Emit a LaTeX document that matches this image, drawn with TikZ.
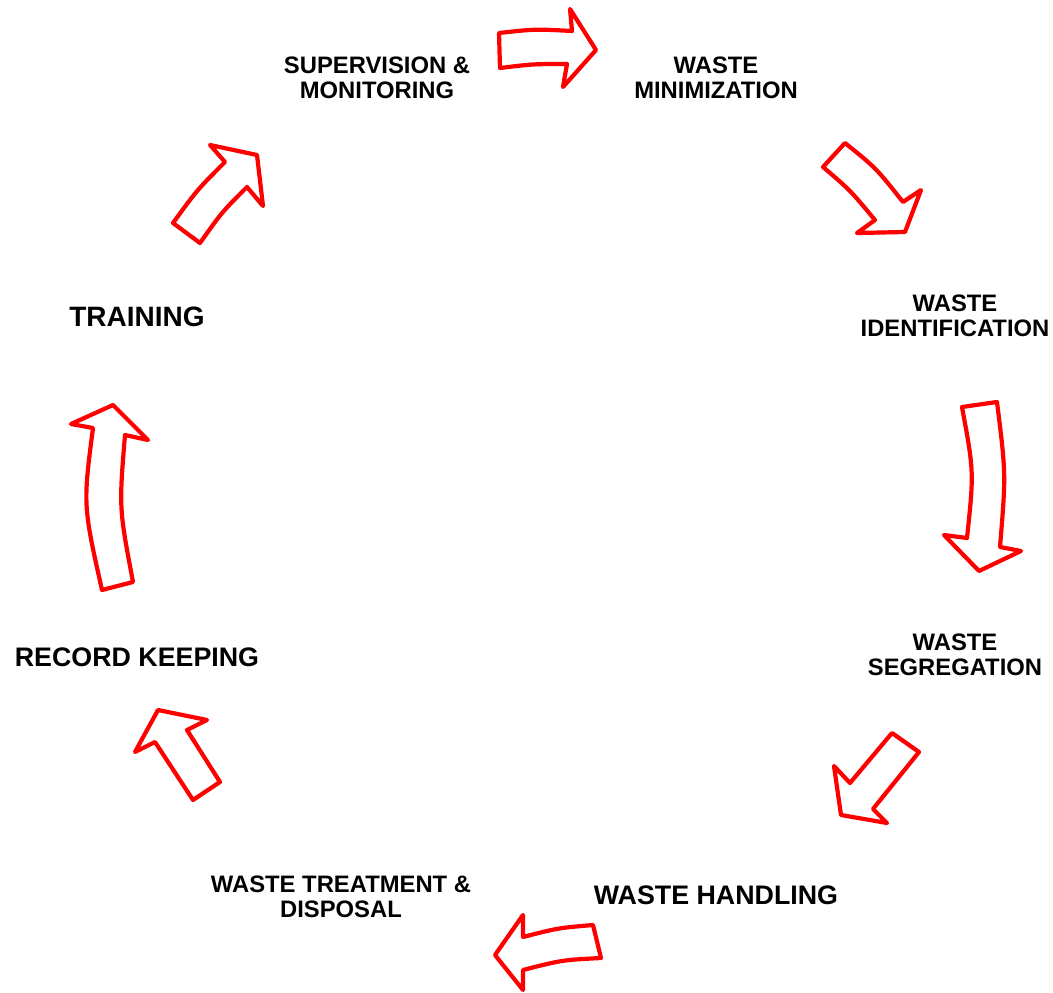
\documentclass[tikz,border=0pt]{standalone}
\usepackage{fontspec}
\setmainfont{Liberation Sans}
\begin{document}
\begin{tikzpicture}[x=1pt,y=-1pt,
  blockarrow/.style={draw=red,fill=white,line width=4.2pt,line join=round},
  smalllabel/.style={font=\bfseries\fontsize{23.8}{25}\selectfont,align=center,inner sep=0pt},
  biglabel/.style={font=\bfseries\fontsize{26.8}{29}\selectfont,align=center,inner sep=0pt}]
\useasboundingbox (0,0) rectangle (1053,993);
% labels
\node[smalllabel] (sup) at (377,78) {SUPERVISION \&\\MONITORING};
\node[smalllabel] (min) at (716,78) {WASTE\\MINIMIZATION};
\node[smalllabel] (ide) at (955,316) {WASTE\\IDENTIFICATION};
\node[smalllabel] (seg) at (955,655) {WASTE\\SEGREGATION};
\node[biglabel] (han) at (716,895) {WASTE HANDLING};
\node[smalllabel] (tre) at (341,897) {WASTE TREATMENT \&\\DISPOSAL};
\node[biglabel] (rec) at (137,657) {RECORD KEEPING};
\node[biglabel,font=\bfseries\fontsize{28}{29}\selectfont] (tra) at (137,317) {TRAINING};
% arrow 1 (top, pointing right)
\draw[blockarrow] (499,33) .. controls (535,29) .. (572,31) -- (570,9) -- (596,50) -- (563,87)
  -- (567,64) .. controls (533,64) .. (500,68) -- cycle;
% arrow 2 (upper right, pointing down-right)
\draw[blockarrow] (845,143) .. controls (876,168) .. (903,202) -- (921,190) -- (905,232)
  -- (857,233) -- (875,220) .. controls (850,190) .. (823,167) -- cycle;
% arrow 3 (right, pointing down)
\draw[blockarrow] (962,407) -- (997,402) .. controls (1006,474) .. (1000,547) -- (1021,551)
  -- (979,571) -- (944,535) -- (967,538) .. controls (974,472) .. cycle;
% arrow 4 (lower right, pointing down-left)
\draw[blockarrow] (892,733) -- (919,752) -- (873,809) -- (887,823) -- (841,815)
  -- (834,766) -- (850,783) -- cycle;
% arrow 5 (bottom, pointing left)
\draw[blockarrow] (593,925) -- (601,958) .. controls (562,960) .. (523,970) -- (523,990)
  -- (495,955) -- (523,915) -- (523,937) .. controls (558,928) .. cycle;
% arrow 6 (lower left, pointing up-left)
\draw[blockarrow] (158,710) -- (207,720) -- (187,730) -- (220,782) -- (193,800)
  -- (155,742) -- (135,752) -- cycle;
% arrow 7 (left, pointing up)
\draw[blockarrow] (102,590) -- (133,582) .. controls (119,508) .. (125,435) -- (148,440)
  -- (113,405) -- (71,424) -- (93,428) .. controls (83,505) .. cycle;
% arrow 8 (upper left, pointing up-right)
\draw[blockarrow] (173,223) .. controls (197,190) .. (225,162) -- (210,145) -- (257,155)
  -- (263,206) -- (247,187) .. controls (222,212) .. (200,243) -- cycle;
\end{tikzpicture}
\end{document}
